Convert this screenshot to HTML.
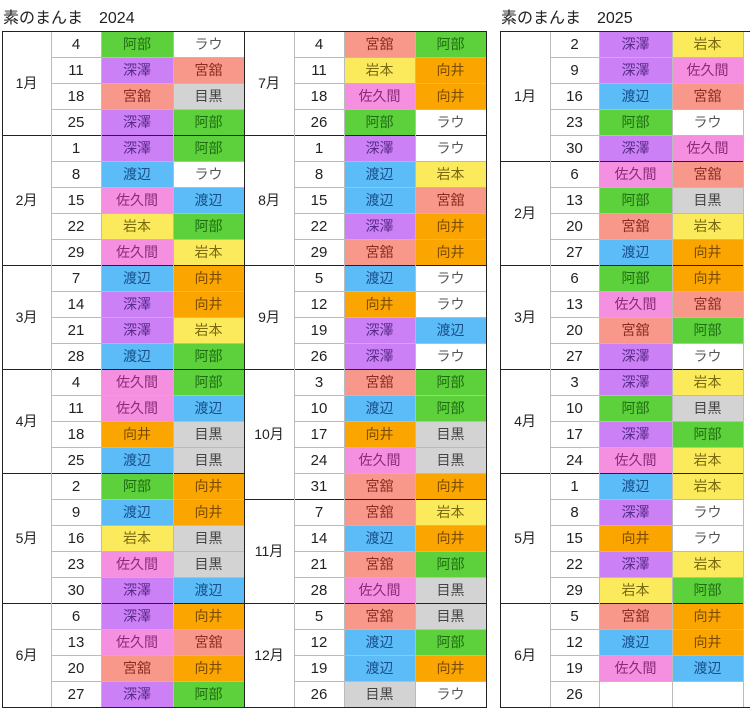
<!DOCTYPE html>
<html><head><meta charset="utf-8">
<style>
body{margin:0;background:#fff;width:750px;height:720px;overflow:hidden;position:relative;font-family:"Liberation Sans","Noto Sans CJK JP",sans-serif;}
.c{position:absolute;display:flex;align-items:center;justify-content:center;font-size:14px;box-sizing:border-box;}
.l{position:absolute;}
.t{position:absolute;font-size:16px;color:#222;top:4px;}
</style></head><body>
<div class="t" style="left:3px">素のまんま　2024</div>
<div class="t" style="left:501px">素のまんま　2025</div>
<script>
const colors={"阿部":["#5dd13c","#1f6b12"],"深澤":["#cc80f5","#5a2a8a"],"宮舘":["#f7988a","#8a2a20"],"目黒":["#d3d3d3","#444"],"ラウ":["#ffffff","#555"],"渡辺":["#5bbcf7","#1a4f8a"],"佐久間":["#f58fe0","#8a2a78"],"岩本":["#fbeb5c","#7a6a10"],"向井":["#fba600","#7a4a00"],"":["#ffffff","#000"]};
const half2024a=[["1月",[[4,"阿部","ラウ"],[11,"深澤","宮舘"],[18,"宮舘","目黒"],[25,"深澤","阿部"]]],
["2月",[[1,"深澤","阿部"],[8,"渡辺","ラウ"],[15,"佐久間","渡辺"],[22,"岩本","阿部"],[29,"佐久間","岩本"]]],
["3月",[[7,"渡辺","向井"],[14,"深澤","向井"],[21,"深澤","岩本"],[28,"渡辺","阿部"]]],
["4月",[[4,"佐久間","阿部"],[11,"佐久間","渡辺"],[18,"向井","目黒"],[25,"渡辺","目黒"]]],
["5月",[[2,"阿部","向井"],[9,"渡辺","向井"],[16,"岩本","目黒"],[23,"佐久間","目黒"],[30,"深澤","渡辺"]]],
["6月",[[6,"深澤","向井"],[13,"佐久間","宮舘"],[20,"宮舘","向井"],[27,"深澤","阿部"]]]];
const half2024b=[["7月",[[4,"宮舘","阿部"],[11,"岩本","向井"],[18,"佐久間","向井"],[26,"阿部","ラウ"]]],
["8月",[[1,"深澤","ラウ"],[8,"渡辺","岩本"],[15,"渡辺","宮舘"],[22,"深澤","向井"],[29,"宮舘","向井"]]],
["9月",[[5,"渡辺","ラウ"],[12,"向井","ラウ"],[19,"深澤","渡辺"],[26,"深澤","ラウ"]]],
["10月",[[3,"宮舘","阿部"],[10,"渡辺","阿部"],[17,"向井","目黒"],[24,"佐久間","目黒"],[31,"宮舘","向井"]]],
["11月",[[7,"宮舘","岩本"],[14,"渡辺","向井"],[21,"宮舘","阿部"],[28,"佐久間","目黒"]]],
["12月",[[5,"宮舘","目黒"],[12,"渡辺","阿部"],[19,"渡辺","向井"],[26,"目黒","ラウ"]]]];
const half2025=[["1月",[[2,"深澤","岩本"],[9,"深澤","佐久間"],[16,"渡辺","宮舘"],[23,"阿部","ラウ"],[30,"深澤","佐久間"]]],
["2月",[[6,"佐久間","宮舘"],[13,"阿部","目黒"],[20,"宮舘","岩本"],[27,"渡辺","向井"]]],
["3月",[[6,"阿部","向井"],[13,"佐久間","宮舘"],[20,"宮舘","阿部"],[27,"深澤","ラウ"]]],
["4月",[[3,"深澤","岩本"],[10,"阿部","目黒"],[17,"深澤","阿部"],[24,"佐久間","岩本"]]],
["5月",[[1,"渡辺","岩本"],[8,"深澤","ラウ"],[15,"向井","ラウ"],[22,"深澤","岩本"],[29,"岩本","阿部"]]],
["6月",[[5,"宮舘","向井"],[12,"渡辺","向井"],[19,"佐久間","渡辺"],[26,"",""]]]];
const Y0=31,RH=26;
function line(x,y,w,h,c){const d=document.createElement('div');d.className='l';


d.style.cssText=`left:${x}px;top:${y}px;width:${w}px;height:${h}px;background:${c}`;document.body.appendChild(d);}
function cell(x,y,w,h,txt,bg,fg,fs){const d=document.createElement('div');d.className='c';


d.style.cssText=`left:${x}px;top:${y}px;width:${w}px;height:${h}px;background:${bg};color:${fg};font-size:${fs}px`;d.textContent=txt;document.body.appendChild(d);}
function half(data,xs){ // xs: [month,day,n1,n2,end]
  let r=0;
  data.forEach(([m,rows])=>{
    const ytop=Y0+r*RH;
    cell(xs[0],ytop,xs[1]-xs[0],rows.length*RH,m,"#fff","#222",14);
    rows.forEach((row,i)=>{
      const y=Y0+(r+i)*RH;
      cell(xs[1],y,xs[2]-xs[1],RH,String(row[0]),"#fff","#222",15);
      const a=colors[row[1]],b=colors[row[2]];
      cell(xs[2],y,xs[3]-xs[2],RH,row[1],a[0],a[1],14);
      cell(xs[3],y,xs[4]-xs[3],RH,row[2],b[0],b[1],14);
      if(i>0) line(xs[1],y,xs[4]-xs[1],1,"#bbb");
    });
    if(r>0) line(xs[0],ytop,xs[4]-xs[0],1,"#222");
    r+=rows.length;
  });
  for(let k=1;k<4;k++) line(xs[k],Y0,1,r*RH,"#bbb");
}
half(half2024a,[2,51,101,173,244]);
half(half2024b,[244,294,344,415,486]);
half(half2025,[500,550,599,672,743]);
line(743,Y0,1,26*RH,"#bbb");
// outer borders
line(2,Y0,485,1,"#222");line(2,Y0+26*RH,485,1,"#222");
line(2,Y0,1,26*RH,"#222");line(244,Y0,1,26*RH,"#222");line(486,Y0,1,26*RH+1,"#222");
line(500,Y0,250,1,"#222");line(500,Y0+26*RH,250,1,"#222");line(500,Y0,1,26*RH,"#222");
</script>
</body></html>
